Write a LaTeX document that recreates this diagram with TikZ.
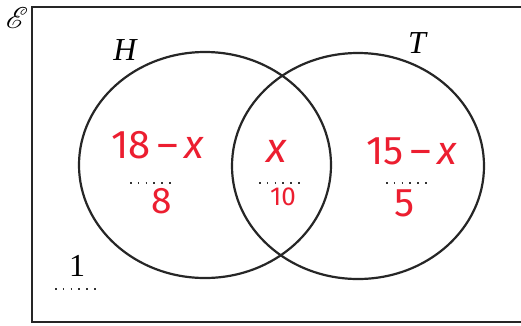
\documentclass[tikz,border=0pt]{standalone}
\usepackage{fontspec}
\usepackage{mathrsfs}
\setmainfont{Liberation Serif}
\newfontfamily\handfont{Fira Sans}
\definecolor{handred}{RGB}{236,30,48}
\begin{document}
\begin{tikzpicture}[x=1pt,y=-1pt,
  frame/.style={line width=2.2pt,draw=black!85},
  setline/.style={line width=2.2pt,draw=black!85},
  lab/.style={inner sep=0pt,font=\fontsize{32}{32}\selectfont},
  red/.style={inner sep=0pt,text=handred,font=\handfont\fontsize{40}{40}\selectfont},
  dotrow/.style={line width=2.2pt,dash pattern=on 1.6pt off 6.2pt,draw=black!80}]
\clip (0,0) rectangle (521,325);
\fill[white] (0,0) rectangle (521,325);
\draw[frame] (32,7) rectangle (540,322);
\draw[setline] (205,165) ellipse [x radius=126, y radius=113];
\draw[setline] (358,166) ellipse [x radius=126, y radius=113];
\node[inner sep=0pt] (E) at (17,18) {\scalebox{3}{$\mathscr{E}$}};
\node[lab] (H) at (125,50) {\itshape H};
\node[lab] (T) at (417,43) {\itshape T};
\node[lab] (one) at (77,266) {1};
\draw[dotrow] (55,289) -- (100,289);
\node[red] (a) at (158,145) {18\,–\,\textit{x}};
\draw[dotrow] (130,183) -- (175,183);
\node[red,font=\handfont\fontsize{37}{37}\selectfont] (a2) at (162,201) {8};
\node[red,font=\handfont\fontsize{42}{42}\selectfont] (b) at (277,151) {\textit{x}};
\draw[dotrow] (259,183) -- (304,183);
\node[red,font=\handfont\fontsize{26}{26}\selectfont] (b2) at (283,197) {10};
\node[red] (c) at (412,151) {15\,–\,\textit{x}};
\draw[dotrow] (386,183) -- (431,183);
\node[red] (c2) at (405,203) {5};
\end{tikzpicture}
\end{document}
